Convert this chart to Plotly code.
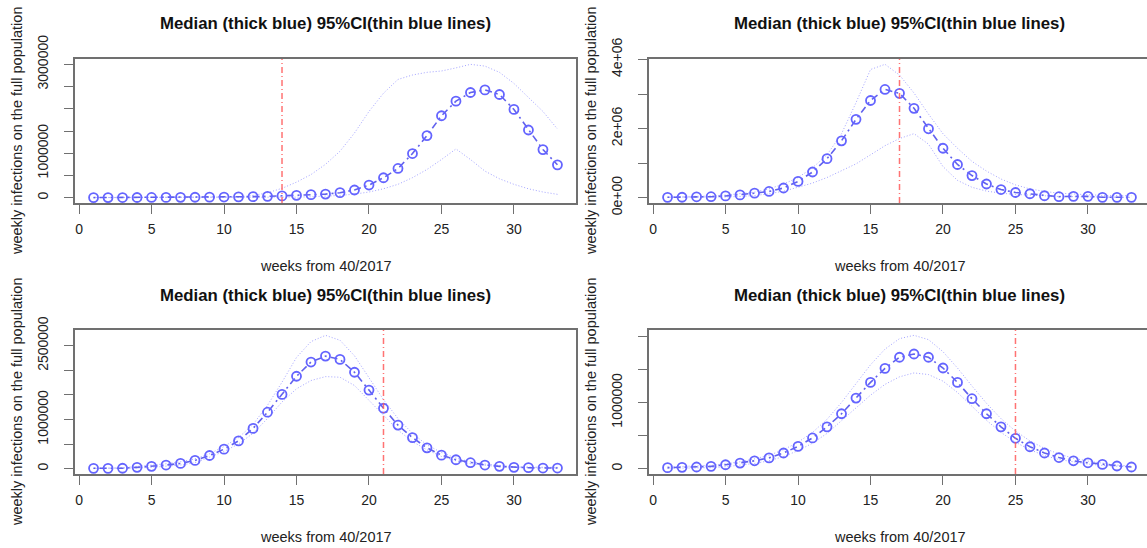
import plotly.graph_objects as go

# ---------------- data ----------------
weeks = [1, 2, 3, 4, 5, 6, 7, 8, 9, 10, 11, 12, 13, 14, 15, 16, 17, 18, 19, 20,
         21, 22, 23, 24, 25, 26, 27, 28, 29, 30, 31, 32, 33]

median1 = [2000, 2500, 3000, 3500, 4500, 5500, 7000, 9000, 11000, 14000, 18000, 23000,
           30000, 40000, 52000, 67000, 80000, 112000, 172000, 284000, 448000, 657000,
           993000, 1396000, 1843000, 2172000, 2366000, 2425000, 2321000, 1985000,
           1522000, 1082000, 739000]
upper1 = [3000, 4000, 5000, 6000, 7000, 8000, 9000, 10000, 12000, 14000, 18000, 50000,
          110000, 210000, 350000, 520000, 750000, 1045000, 1455000, 1940000, 2350000,
          2660000, 2760000, 2820000, 2850000, 2920000, 3000000, 2960000, 2820000,
          2570000, 2260000, 1940000, 1545000]
lower1 = [1000, 1000, 1200, 1400, 1600, 1800, 2000, 2500, 3000, 3500, 4000, 5000,
          6000, 8000, 12000, 20000, 30000, 50000, 80000, 127000, 200000, 300000,
          450000, 634000, 858000, 1097000, 858000, 597000, 425000, 300000, 200000,
          127000, 75000]

median2 = [10000, 12000, 25000, 28000, 50000, 80000, 130000, 180000, 280000, 470000,
           743000, 1129000, 1646000, 2267000, 2813000, 3133000, 3020000, 2587000,
           1994000, 1430000, 960000, 640000, 395000, 235000, 150000, 113000, 56000,
           28000, 38000, 38000, 10000, 10000, 10000]
upper2 = [20000, 25000, 40000, 50000, 75000, 110000, 160000, 254000, 395000, 583000,
          865000, 1240000, 1850000, 2750000, 3710000, 3860000, 3550000, 3030000,
          2420000, 1850000, 1430000, 1050000, 770000, 540000, 370000, 254000, 180000,
          130000, 100000, 85000, 66000, 60000, 55000]
lower2 = [5000, 6000, 10000, 12000, 20000, 35000, 60000, 113000, 188000, 301000,
          423000, 583000, 771000, 978000, 1240000, 1505000, 1712000, 1853000, 1550000,
          900000, 500000, 300000, 190000, 130000, 94000, 70000, 50000, 35000, 30000,
          25000, 15000, 10000, 8000]

median3 = [7000, 7000, 8000, 27000, 47000, 74000, 107000, 168000, 268000, 396000,
           564000, 819000, 1148000, 1510000, 1879000, 2168000, 2289000, 2221000,
           1960000, 1597000, 1228000, 886000, 631000, 423000, 275000, 181000, 121000,
           74000, 47000, 27000, 20000, 13000, 13000]
upper3 = [9000, 13000, 20000, 47000, 67000, 100000, 141000, 201000, 302000, 450000,
          631000, 899000, 1289000, 1758000, 2262000, 2584000, 2711000, 2611000,
          2295000, 1859000, 1403000, 1020000, 718000, 483000, 329000, 215000, 141000,
          94000, 60000, 40000, 34000, 27000, 27000]
lower3 = [2000, 3000, 4000, 13000, 27000, 47000, 74000, 121000, 235000, 349000,
          503000, 718000, 1020000, 1356000, 1624000, 1792000, 1872000, 1859000,
          1691000, 1389000, 1067000, 785000, 550000, 383000, 248000, 161000, 101000,
          67000, 40000, 27000, 20000, 15000, 15000]

median4 = [15000, 20000, 25000, 35000, 59000, 84000, 119000, 163000, 237000, 336000,
           464000, 632000, 830000, 1067000, 1304000, 1516000, 1684000, 1733000,
           1684000, 1521000, 1304000, 1057000, 830000, 632000, 459000, 331000, 237000,
           168000, 119000, 89000, 64000, 40000, 25000]
upper4 = [25000, 30000, 35000, 50000, 74000, 104000, 148000, 202000, 286000, 400000,
          548000, 746000, 1000000, 1289000, 1570000, 1807000, 1965000, 2015000,
          1950000, 1768000, 1521000, 1249000, 988000, 756000, 568000, 420000, 306000,
          222000, 158000, 114000, 79000, 54000, 40000]
lower4 = [5000, 8000, 10000, 15000, 30000, 50000, 79000, 119000, 183000, 272000,
          385000, 533000, 721000, 919000, 1111000, 1274000, 1388000, 1447000, 1422000,
          1323000, 1151000, 943000, 731000, 548000, 400000, 286000, 198000, 138000,
          99000, 69000, 49000, 35000, 25000]

current_week = [14, 17, 21, 25]

x_tickvals = [0, 5, 10, 15, 20, 25, 30]
x_ticktext = ["0", "5", "10", "15", "20", "25", "30"]

y_tickvals1 = [0, 500000, 1000000, 1500000, 2000000, 2500000, 3000000]
y_ticktext1 = ["0", "", "1000000", "", "", "", "3000000"]
y_tickvals2 = [0, 1000000, 2000000, 3000000, 4000000]
y_ticktext2 = ["0e+00", "", "2e+06", "", "4e+06"]
y_tickvals3 = [0, 500000, 1000000, 1500000, 2000000, 2500000]
y_ticktext3 = ["0", "", "1000000", "", "", "2500000"]
y_tickvals4 = [0, 500000, 1000000, 1500000, 2000000]
y_ticktext4 = ["0", "", "1000000", "", ""]

title_text = "Median (thick blue) 95%CI(thin blue lines)"
x_title = "weeks from 40/2017"
y_title = "weekly infections on the full population"

panels = [
    (median1, upper1, lower1, y_tickvals1, y_ticktext1),
    (median2, upper2, lower2, y_tickvals2, y_ticktext2),
    (median3, upper3, lower3, y_tickvals3, y_ticktext3),
    (median4, upper4, lower4, y_tickvals4, y_ticktext4),
]

# ---------------- layout geometry (pixels) ----------------
W, H = 1147, 548
# (left, right, top, bottom) of each plot box
boxes = [
    (75, 576, 59, 203),
    (649, 1150, 59, 203),
    (75, 576, 330, 474),
    (649, 1150, 330, 474),
]
x_lo, x_hi = -0.28, 34.28

FONT = "Liberation Sans, Arial, sans-serif"
BLUE = "rgb(100,100,255)"
BLUE_LINE = "rgba(80,80,235,0.9)"
CI_BLUE = "rgba(140,140,255,0.8)"
RED = "rgba(255,90,90,0.85)"
AXIS_COL = "#707070"
TXT = "#222222"

fig = go.Figure()
annotations = []
shapes = []
layout_axes = {}

for i, (med, up, lo, ytv, ytt) in enumerate(panels):
    n = i + 1
    xa = "x" if n == 1 else f"x{n}"
    ya = "y" if n == 1 else f"y{n}"
    l, r, t, b = boxes[i]
    r_vis = min(r, W)
    px_per_unit = (r - l) / (x_hi - x_lo)
    x_hi_vis = x_lo + (r_vis - l) / px_per_unit

    fig.add_trace(go.Scatter(x=weeks, y=up, xaxis=xa, yaxis=ya, mode="lines",
                             line=dict(color=CI_BLUE, width=1, dash="1px,2px"),
                             showlegend=False, hoverinfo="skip"))
    fig.add_trace(go.Scatter(x=weeks, y=lo, xaxis=xa, yaxis=ya, mode="lines",
                             line=dict(color=CI_BLUE, width=1, dash="1px,2px"),
                             showlegend=False, hoverinfo="skip"))
    fig.add_trace(go.Scatter(x=weeks, y=med, xaxis=xa, yaxis=ya, mode="lines+markers",
                             line=dict(color=BLUE_LINE, width=1.6, dash="2px,4px,7px,4px"),
                             marker=dict(symbol="circle-open", size=9,
                                         color=BLUE, line=dict(color=BLUE, width=1.8)),
                             showlegend=False))

    ymax = max(up)
    y_range = [-0.04 * ymax, 1.04 * ymax]

    xkey = "xaxis" if n == 1 else f"xaxis{n}"
    ykey = "yaxis" if n == 1 else f"yaxis{n}"
    layout_axes[xkey] = dict(
        domain=[l / W, r_vis / W], anchor=ya, range=[x_lo, x_hi_vis],
        tickvals=x_tickvals, ticktext=x_ticktext, ticks="outside", ticklen=9,
        tickcolor=AXIS_COL, tickwidth=1.3, showline=True, linecolor=AXIS_COL,
        linewidth=1.5, mirror=True, showgrid=False, zeroline=False, automargin=False,
        tickfont=dict(family=FONT, size=14, color=TXT), ticklabelstandoff=3,
    )
    layout_axes[ykey] = dict(
        domain=[1 - b / H, 1 - t / H], anchor=xa, range=y_range,
        tickvals=ytv, ticktext=ytt, ticks="outside", ticklen=9,
        tickcolor=AXIS_COL, tickwidth=1.3, showline=True, linecolor=AXIS_COL,
        linewidth=1.5, mirror=(n in (1, 3)), showgrid=False, zeroline=False,
        automargin=False, tickangle=-90,
        tickfont=dict(family=FONT, size=14, color=TXT), ticklabelstandoff=11,
    )

    shapes.append(dict(type="line", xref=xa, yref=f"{ya} domain",
                       x0=current_week[i], x1=current_week[i], y0=0, y1=1,
                       line=dict(color=RED, width=1.5, dash="6px,3px,1px,3px")))

    cx = (l + r) / 2
    annotations.append(dict(text=f"<b>{title_text}</b>", x=cx / W, y=1 - (t - 35) / H,
                            xref="paper", yref="paper", showarrow=False,
                            font=dict(family=FONT, size=16.8, color="#111111"),
                            xanchor="center", yanchor="middle"))
    annotations.append(dict(text=x_title, x=cx / W, y=1 - (b + 63) / H,
                            xref="paper", yref="paper", showarrow=False,
                            font=dict(family=FONT, size=14.5, color=TXT),
                            xanchor="center", yanchor="middle"))
    annotations.append(dict(text=y_title, x=(l - 58) / W, y=1 - ((t + b) / 2) / H,
                            xref="paper", yref="paper", showarrow=False, textangle=-90,
                            font=dict(family=FONT, size=14.5, color=TXT),
                            xanchor="center", yanchor="middle"))

fig.update_layout(
    width=W, height=H, autosize=False,
    margin=dict(l=0, r=0, t=0, b=0),
    paper_bgcolor="white", plot_bgcolor="white",
    showlegend=False,
    annotations=annotations, shapes=shapes,
    **layout_axes,
)

fig.write_html("out.html", config={"displayModeBar": False},
               post_script="document.body.style.margin='0px';document.body.style.overflow='hidden';")
